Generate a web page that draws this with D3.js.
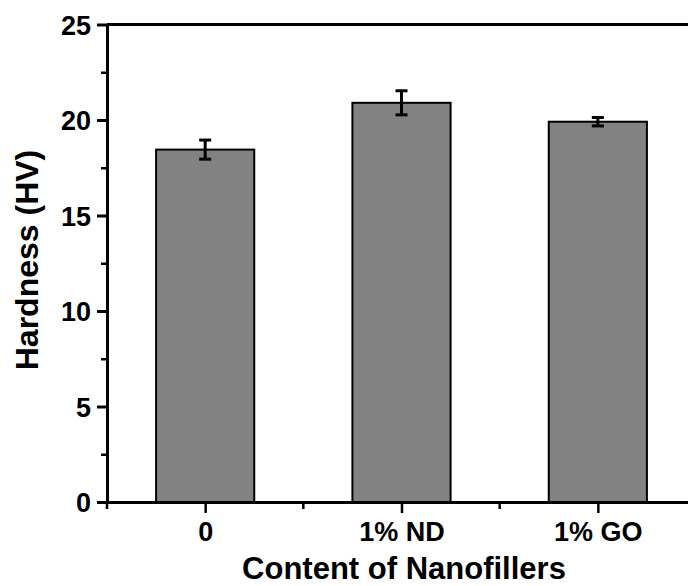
<!DOCTYPE html>
<html><head><meta charset="utf-8">
<script src="https://cdn.jsdelivr.net/npm/d3@7"></script>
<style>body{margin:0;background:#fff}svg{display:block}</style>
</head><body>
<svg id="c" width="688" height="586"></svg>
<script>
const categories = ["0", "1% ND", "1% GO"];
const values = [18.45, 20.9, 19.91];
const errors = [0.5, 0.63, 0.22];
const yTicks = [0, 5, 10, 15, 20, 25];
const yMinorTicks = [2.5, 7.5, 12.5, 17.5, 22.5];

(function () {
const svg = d3.select("#c");
const mLeft = 107, mTop = 24.5, mRight = 696, mBottom = 502;
const font = "'Liberation Sans', Arial, sans-serif";

const x = d3.scalePoint().domain(categories).range([mLeft, mRight]).padding(0.5);
const step = x.step();
const y = d3.scaleLinear().domain([0, 25]).range([mBottom, mTop]);

// bars
svg.selectAll("rect.bar").data(values).enter().append("rect")
  .attr("x", (d, i) => x(categories[i]) - step / 4)
  .attr("width", step / 2)
  .attr("y", d => y(d))
  .attr("height", d => y(0) - y(d))
  .attr("fill", "#828282").attr("stroke", "#000").attr("stroke-width", 2);

// error bars
const eg = svg.selectAll("g.err").data(values).enter().append("g")
  .attr("stroke", "#000").attr("stroke-width", 3);
eg.append("line")
  .attr("x1", (d, i) => x(categories[i])).attr("x2", (d, i) => x(categories[i]))
  .attr("y1", (d, i) => y(d + errors[i])).attr("y2", (d, i) => y(d - errors[i]));
eg.append("line")
  .attr("x1", (d, i) => x(categories[i]) - 6).attr("x2", (d, i) => x(categories[i]) + 6)
  .attr("y1", (d, i) => y(d + errors[i])).attr("y2", (d, i) => y(d + errors[i]));
eg.append("line")
  .attr("x1", (d, i) => x(categories[i]) - 6).attr("x2", (d, i) => x(categories[i]) + 6)
  .attr("y1", (d, i) => y(d - errors[i])).attr("y2", (d, i) => y(d - errors[i]));

// y axis
const yAxis = d3.axisLeft(y).tickValues(yTicks).tickSize(10).tickPadding(6).tickSizeOuter(0);
const gy = svg.append("g").attr("transform", `translate(${mLeft},0)`).call(yAxis);
gy.selectAll(".tick line").attr("stroke-width", 3);
gy.select(".domain").attr("stroke-width", 3);
gy.selectAll("text").attr("font-family", font).attr("font-weight", "bold").attr("font-size", 27).attr("fill", "#000").attr("dy", "0.36em");
const gym = svg.append("g").attr("transform", `translate(${mLeft},0)`)
  .call(d3.axisLeft(y).tickValues(yMinorTicks).tickSize(6).tickFormat("").tickSizeOuter(0));
gym.select(".domain").remove();
gym.selectAll(".tick line").attr("stroke-width", 2.5);

// x axis
const xAxis = d3.axisBottom(x).tickSize(11).tickPadding(9).tickSizeOuter(0);
const gx = svg.append("g").attr("transform", `translate(0,${mBottom})`).call(xAxis);
gx.select(".domain").attr("stroke-width", 3);
gx.selectAll(".tick line").attr("stroke-width", 2.5);
gx.selectAll("text").attr("font-family", font).attr("font-weight", "bold").attr("font-size", 27).attr("fill", "#000");
const xMinor = [mLeft, ...categories.slice(0, -1).map(c => x(c) + step / 2)];
svg.append("g").selectAll("line").data(xMinor).enter().append("line")
  .attr("x1", d => d).attr("x2", d => d).attr("y1", mBottom).attr("y2", mBottom + 7)
  .attr("stroke", "#000").attr("stroke-width", 2.5);

// top border
svg.append("line").attr("x1", mLeft).attr("x2", mRight).attr("y1", mTop).attr("y2", mTop)
  .attr("stroke", "#000").attr("stroke-width", 3);

// titles
svg.append("text").attr("x", 404).attr("y", 579)
  .attr("text-anchor", "middle").attr("font-family", font).attr("font-weight", "bold").attr("font-size", 31)
  .text("Content of Nanofillers");
svg.append("text").attr("transform", `translate(38,260) rotate(-90)`)
  .attr("text-anchor", "middle").attr("font-family", font).attr("font-weight", "bold").attr("font-size", 32)
  .text("Hardness (HV)");
})();
</script>
</body></html>
